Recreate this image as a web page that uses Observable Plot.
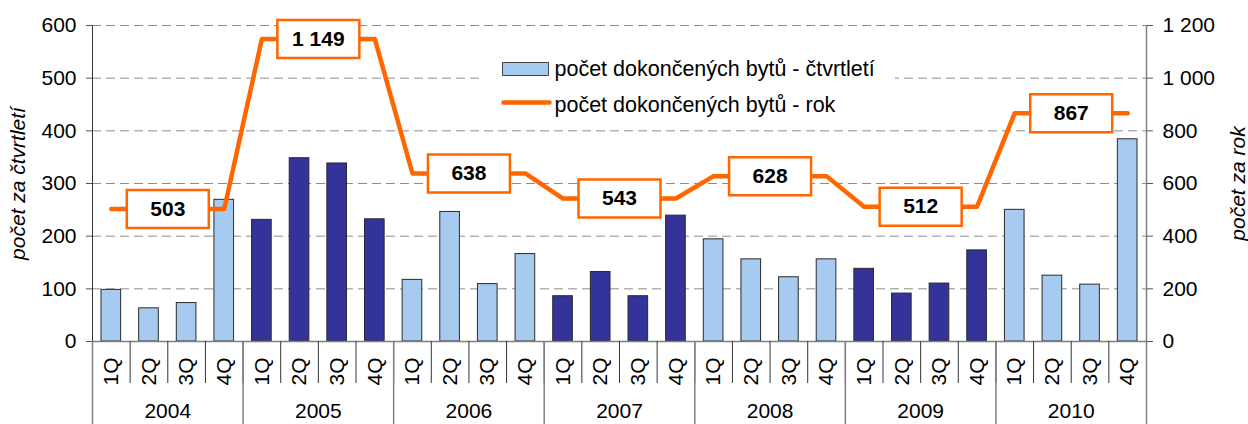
<!DOCTYPE html>
<html><head><meta charset="utf-8">
<script src="https://cdn.jsdelivr.net/npm/d3@7"></script>
<script src="https://cdn.jsdelivr.net/npm/@observablehq/plot@0.6"></script>
<style>body{margin:0;background:#fff} svg{font-family:"Liberation Sans",Arial,sans-serif}</style>
</head><body><div id="chart"></div>
<script>
const years = [2004, 2005, 2006, 2007, 2008, 2009, 2010];
const quarters = ["1Q", "2Q", "3Q", "4Q"];
const quarterly = [
  [98, 63, 73, 269],
  [231, 348, 338, 232],
  [117, 246, 109, 166],
  [86, 132, 86, 239],
  [194, 156, 122, 156],
  [138, 91, 110, 173],
  [250, 125, 108, 384]
];
const yearly = [503, 1149, 638, 543, 628, 512, 867];
const leftTicks = [0, 100, 200, 300, 400, 500, 600];
const seriesNames = ["počet dokončených bytů - čtvrtletí", "počet dokončených bytů - rok"];
const axisTitles = ["počet za čtvrtletí", "počet za rok"];

const rows = [];
years.forEach((y, yi) => quarters.forEach((q, qi) => rows.push({
  year: y, q, i: yi * 4 + qi, value: quarterly[yi][qi], total: yearly[yi], light: yi % 2 === 0
})));
const yearRows = years.map((y, yi) => ({year: y, total: yearly[yi], c: yi * 4 + 2}));
const fmt = d => d3.format(",")(d).replace(/,/g, " ");

const rectSymbol = (w, h) => ({draw(ctx) { ctx.rect(-w / 2, -h / 2, w, h); }});
const lineSymbol = (w) => ({draw(ctx) { ctx.moveTo(-w / 2, 0); ctx.lineTo(w / 2, 0); }});
const FS = 21;

const plot = Plot.plot({
  width: 1248, height: 424,
  marginLeft: 92, marginRight: 102, marginTop: 25, marginBottom: 83,
  style: {fontFamily: "Liberation Sans, Arial, sans-serif", fontSize: FS + "px", color: "#000", background: "#fff"},
  x: {type: "linear", domain: [0, 28], axis: null},
  y: {domain: [0, 600], axis: null},
  marks: [
    Plot.ruleY(leftTicks.slice(1), {stroke: "#8c8c8c", strokeDasharray: "9,5", strokeWidth: 1}),
    // legend background
    Plot.dot([0], {frameAnchor: "top-left", dx: 596, dy: 60, symbol: rectSymbol(413, 66), fill: "white", stroke: "none"}),
    Plot.rect(rows, {x1: "i", x2: d => d.i + 1, y1: 0, y2: "value", insetLeft: 9, insetRight: 9,
      fill: d => d.light ? "#A6CAF0" : "#333399", stroke: "#2a2a2a", strokeWidth: 1}),
    Plot.ruleY([0], {stroke: "#808080", strokeWidth: 1.5}),
    Plot.ruleX([0], {stroke: "#333", strokeWidth: 1}),
    Plot.ruleX([28], {stroke: "#808080", strokeWidth: 1.5}),
    Plot.axisY(leftTicks, {anchor: "left", tickSize: 6, tickPadding: 10, stroke: "#555", label: null, fontSize: FS}),
    Plot.axisY(leftTicks, {anchor: "right", tickSize: 6, tickPadding: 10, stroke: "#555", label: null, fontSize: FS, tickFormat: d => fmt(d * 2)}),
    Plot.axisX(d3.range(0, 29), {anchor: "bottom", tickSize: 42, tickFormat: () => "", stroke: "#333", label: null}),
    Plot.axisX(d3.range(0, 29, 4), {anchor: "bottom", tickSize: 83, tickFormat: () => "", stroke: "#808080", strokeWidth: 1.5, label: null}),
    Plot.axisX(rows.map(d => d.i + 0.5), {anchor: "bottom", tickSize: 0, tickPadding: 16, tickRotate: -90, label: null, fontSize: FS,
      tickFormat: d => quarters[Math.floor(d) % 4]}),
    Plot.axisX(yearRows.map(d => d.c), {anchor: "bottom", tickSize: 0, tickPadding: 62, label: null, fontSize: FS,
      tickFormat: d => String(years[(d - 2) / 4])}),
    Plot.text([axisTitles[0]], {frameAnchor: "left", dx: -74, rotate: -90, textAnchor: "middle", fontStyle: "italic", fontSize: FS}),
    Plot.text([axisTitles[1]], {frameAnchor: "right", dx: 92, rotate: -90, textAnchor: "middle", fontStyle: "italic", fontSize: FS}),
    Plot.line(rows, {x: d => d.i + 0.5, y: d => d.total / 2, stroke: "#FF6600", strokeWidth: 4.5, strokeLinejoin: "round", strokeLinecap: "round"}),
    Plot.dot(yearRows, {x: "c", y: d => d.total / 2, symbol: rectSymbol(82, 38), fill: "white", stroke: "#FF6600", strokeWidth: 2.5}),
    Plot.text(yearRows, {x: "c", y: d => d.total / 2, text: d => fmt(d.total), fontWeight: "bold", fontSize: 21, fill: "#000"}),
    // legend
    Plot.dot([0], {frameAnchor: "top-left", dx: 433, dy: 43.5, symbol: rectSymbol(46, 13), fill: "#A6CAF0", stroke: "#444", strokeWidth: 1}),
    Plot.dot([0], {frameAnchor: "top-left", dx: 434, dy: 77, symbol: lineSymbol(46), fill: "none", stroke: "#FF6600", strokeWidth: 4.5, strokeLinecap: "round"}),
    Plot.text([seriesNames[0]], {frameAnchor: "top-left", dx: 462, dy: 44, textAnchor: "start", lineAnchor: "middle", fontSize: 21.5}),
    Plot.text([seriesNames[1]], {frameAnchor: "top-left", dx: 462, dy: 80, textAnchor: "start", lineAnchor: "middle", fontSize: 21.5})
  ]
});
document.getElementById("chart").appendChild(plot);
</script>
</body></html>
